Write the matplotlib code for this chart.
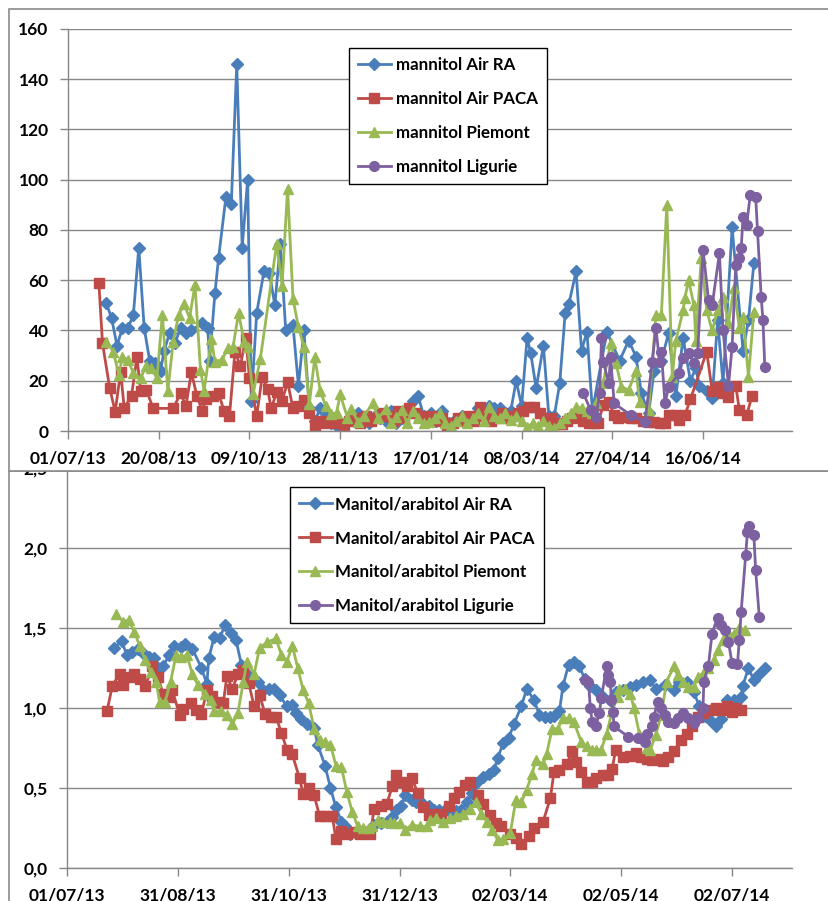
import matplotlib
matplotlib.use("Agg")
import matplotlib.pyplot as plt
from matplotlib.patches import Rectangle
from matplotlib.ticker import FuncFormatter
from datetime import datetime

plt.rcParams["font.family"] = ["Lato", "DejaVu Sans"]
plt.rcParams["font.weight"] = "bold"

W, H = 829, 901
START = datetime(2013, 7, 1)

# ---------------- mannitol concentrations (days since 01/07/13) ----------------
man_ra_days = [21, 24, 27, 30, 33, 36, 39, 42, 45, 48, 51, 53, 56, 59, 62, 65, 68, 74, 77, 78,
               81, 83, 87, 90, 93, 96, 99, 101, 104, 108, 111, 114, 117, 120, 124, 127, 130, 133,
               136, 139, 142, 145, 148, 151, 154, 157, 160, 163, 166, 169, 172, 175, 178, 181,
               184, 187, 190, 193, 196, 200, 203, 206, 210, 213, 217, 220, 223, 226, 229, 232,
               235, 238, 241, 244, 247, 250, 253, 255, 258, 262, 265, 268, 271, 274, 276, 280,
               283, 286, 289, 297, 304, 309, 313, 316, 320, 323, 327, 331, 335, 339, 343, 346,
               348, 352, 355, 358, 361, 366, 372, 375, 378]
man_ra = [51, 45, 34, 41, 41, 46, 73, 41, 28, 27, 24, 32, 39, 35, 41, 39, 40, 43, 41, 28,
          55, 69, 93, 90.5, 146, 73, 100, 12, 47, 63.5, 63, 50, 74.5, 40, 42, 18, 40, 9,
          4, 9, 6, 3, 2, 1.5, 4, 5, 7, 4, 3, 6, 5, 4, 8, 3,
          5, 7, 12, 14, 6, 7, 4, 8, 3, 4, 6, 5, 5, 9, 8, 10,
          9, 9, 7, 8, 20, 10, 37, 31, 17, 34, 6, 6, 19, 47, 50.5, 63.5,
          32, 39.5, 8, 39.5, 28, 36, 29.6, 15, 7, 24, 28, 39, 14, 37, 20, 25,
          18, 16, 13, 44, 19, 81, 32, 44, 67]

man_paca_days = [17, 19, 23, 26, 29, 31, 35, 38, 40, 43, 47, 58, 62, 65, 68, 71, 74, 76, 80, 83,
                 86, 89, 92, 95, 98, 100, 104, 107, 110, 112, 115, 118, 121, 124, 127, 130, 133,
                 136, 139, 142, 145, 148, 152, 155, 158, 161, 164, 167, 170, 173, 176, 179, 182,
                 185, 188, 191, 194, 197, 200, 203, 206, 209, 212, 215, 218, 221, 224, 227, 230,
                 233, 236, 239, 242, 245, 248, 251, 254, 257, 260, 263, 266, 269, 272, 275, 278,
                 281, 284, 287, 290, 292, 295, 298, 301, 303, 306, 310, 313, 317, 320, 323, 326,
                 329, 331, 335, 337, 340, 343, 352, 355, 358, 361, 364, 368, 370, 374, 377]
man_paca = [59, 35, 17, 7.7, 23.6, 9, 14, 29.5, 16, 16.5, 9, 9, 15, 10, 23.4, 14, 8, 12.6, 14, 15,
            8, 6, 31.5, 26, 37, 21, 6, 21.6, 16.6, 9, 15.5, 12, 19.5, 9, 10, 12.4, 7,
            2.4, 4, 3, 4, 3, 1.5, 4, 5, 3, 6, 4, 5, 7, 6, 4, 8,
            5, 9, 7, 6, 5, 6, 4, 5, 2, 3, 5, 4, 6, 4, 9.7, 6,
            4, 5, 7, 5, 6, 7, 8, 9.6, 9.6, 7, 4.4, 5, 3, 2.6, 4, 5,
            5.7, 4, 3, 3, 3, 10.3, 11.7, 6.4, 5, 5.7, 5, 5, 4, 3.7, 3.7, 3,
            3, 6.3, 6.3, 4.5, 6.3, 12.6, 31.6, 16, 17.6, 15, 13.4, 18, 8.4, 6.3, 14]

man_pie_days = [21, 25, 28, 30, 33, 36, 40, 43, 46, 49, 52, 55, 58, 61, 64, 67, 70, 73, 75, 79,
                81, 85, 88, 91, 94, 97, 99, 102, 106, 115, 118, 121, 124, 127, 130, 133, 136,
                139, 142, 145, 148, 150, 154, 156, 160, 163, 168, 171, 175, 178, 181, 184, 187,
                190, 193, 196, 199, 202, 205, 208, 211, 214, 217, 220, 223, 226, 229, 232, 235,
                238, 241, 244, 247, 250, 253, 256, 259, 262, 265, 268, 271, 274, 277, 280, 283,
                286, 289, 291, 295, 299, 302, 305, 309, 313, 315, 320, 324, 327, 330, 333, 335,
                339, 340, 342, 345, 346, 349, 352, 355, 358, 361, 364, 367, 370, 372, 375, 378]
man_pie = [35.6, 31.6, 22.3, 29.6, 28.3, 23, 21, 25.7, 25, 21, 46.3, 16, 35.6, 46.3, 50.4, 45, 58.3, 24.4, 16, 36.5,
           27.6, 28.4, 33, 33.6, 47, 35.6, 33.6, 14.8, 28.7, 74.5, 57.8, 96.5, 52.6, 41.3, 33.6, 10.6, 29.3,
           16, 10, 6.6, 7.3, 14.6, 5.3, 8.7, 3.5, 6, 11, 5, 8.7, 3, 5.6, 8.3, 3,
           7.8, 5, 3, 3.7, 5, 7, 3, 2, 4, 6, 3, 5, 7, 4, 9.6, 6,
           5, 7, 4.4, 6, 4, 1.7, 3, 2, 4, 2, 1.2, 3, 5, 7, 9.7, 9,
           8, 7, 11, 19, 35, 27, 17.6, 16.3, 24, 11.7, 8.4, 46, 46, 90, 21.6, 36,
           48, 53, 60, 50, 36, 69, 48, 40, 48, 53.5, 43, 57, 41, 45.5, 21.6, 47.5]

man_lig_days = [284, 288, 291, 293, 294, 295, 298, 299, 301, 310, 318, 322, 324, 326, 327, 329,
                331, 337, 339, 342, 345, 347, 350, 353, 355, 359, 361, 364, 366, 368, 370, 371,
                372, 374, 376, 379, 380, 382, 383, 384]
man_lig = [15, 8.4, 5.7, 15, 37, 27.6, 19, 29.6, 11, 6.4, 3.7, 27.6, 41, 27.6, 31.6, 11,
           17.6, 23, 29, 31, 27, 31, 72, 52, 50, 70.7, 40, 18, 33.6, 66, 68.7, 72.7,
           85, 82, 94, 93, 79.6, 53.5, 44, 25.6]

# ---------------- mannitol / arabitol ratios ----------------
rat_ra_days = [26, 30, 33, 36, 39, 42, 45, 48, 50, 53, 56, 59, 63, 65, 69, 74, 77, 78, 81, 84,
               87, 90, 93, 96, 99, 102, 105, 108, 111, 114, 117, 121, 124, 126, 129, 132, 136,
               138, 142, 145, 148, 151, 153, 156, 159, 163, 166, 169, 173, 176, 179, 181, 184,
               186, 190, 192, 196, 199, 202, 205, 208, 211, 214, 217, 220, 223, 225, 229, 232,
               235, 237, 240, 243, 246, 250, 253, 257, 260, 263, 266, 268, 271, 273, 276, 279,
               282, 285, 288, 291, 295, 299, 302, 306, 310, 313, 317, 321, 324, 329, 334, 337,
               341, 345, 348, 351, 354, 357, 360, 363, 367, 371, 372, 375, 378, 381, 384]
rat_ra = [1.373, 1.42, 1.33, 1.348, 1.37, 1.345, 1.32, 1.31, 1.25, 1.26, 1.33, 1.39, 1.38, 1.40, 1.37, 1.25, 1.15, 1.31, 1.445, 1.435,
          1.52, 1.47, 1.425, 1.27, 1.21, 1.175, 1.16, 1.115, 1.12, 1.12, 1.08, 1.01, 1.02, 0.97, 0.93, 0.90, 0.875,
          0.77, 0.64, 0.50, 0.38, 0.29, 0.26, 0.21, 0.22, 0.23, 0.24, 0.27, 0.28, 0.29, 0.32, 0.36, 0.39,
          0.456, 0.425, 0.41, 0.40, 0.39, 0.36, 0.36, 0.36, 0.35, 0.355, 0.36, 0.41, 0.466, 0.53, 0.57, 0.59,
          0.61, 0.685, 0.78, 0.81, 0.90, 1.01, 1.12, 1.05, 0.956, 0.945, 0.945, 0.95, 0.98, 1.14, 1.27, 1.29,
          1.26, 1.18, 1.14, 1.11, 1.07, 1.05, 1.10, 1.11, 1.13, 1.145, 1.165, 1.175, 1.12, 1.145, 1.11, 1.165,
          1.16, 1.10, 1.01, 0.95, 0.925, 0.89, 0.93, 1.05, 1.05, 1.07, 1.14, 1.25, 1.175, 1.215, 1.25]

rat_paca_days = [22, 25, 29, 31, 35, 37, 40, 43, 47, 50, 53, 56, 58, 62, 64, 68, 71, 74, 77, 80,
                 83, 86, 88, 91, 94, 97, 100, 103, 106, 109, 112, 115, 118, 121, 124, 128, 130,
                 133, 136, 139, 142, 146, 148, 151, 154, 158, 161, 164, 167, 169, 173, 176, 179,
                 181, 184, 187, 190, 193, 196, 199, 202, 206, 210, 213, 216, 219, 222, 226, 229,
                 233, 236, 239, 244, 247, 250, 254, 257, 262, 266, 268, 271, 275, 278, 280, 283,
                 286, 289, 291, 295, 298, 300, 302, 306, 310, 313, 316, 319, 322, 325, 328, 331,
                 334, 338, 341, 344, 347, 350, 354, 357, 360, 363, 366, 368, 371]
rat_paca = [0.98, 1.14, 1.215, 1.145, 1.195, 1.21, 1.18, 1.135, 1.26, 1.195, 1.085, 1.07, 1.11, 0.955, 0.995, 1.03, 0.99, 0.965, 1.11, 1.075,
            1.04, 1.03, 1.20, 1.12, 1.21, 1.24, 1.155, 1.01, 1.08, 0.965, 0.945, 0.945, 0.845, 0.74, 0.71, 0.56, 0.46,
            0.50, 0.456, 0.325, 0.325, 0.325, 0.18, 0.23, 0.215, 0.225, 0.215, 0.225, 0.215, 0.37, 0.39, 0.40, 0.51,
            0.58, 0.54, 0.51, 0.56, 0.466, 0.38, 0.33, 0.34, 0.34, 0.39, 0.435, 0.476, 0.52, 0.54, 0.456, 0.40,
            0.33, 0.28, 0.26, 0.21, 0.185, 0.15, 0.20, 0.25, 0.29, 0.435, 0.60, 0.61, 0.65, 0.73, 0.665, 0.60,
            0.54, 0.54, 0.56, 0.58, 0.58, 0.62, 0.74, 0.695, 0.70, 0.72, 0.695, 0.68, 0.675, 0.68, 0.67, 0.695,
            0.73, 0.80, 0.835, 0.89, 0.946, 0.966, 0.99, 1.00, 0.99, 1.01, 0.976, 1.0, 0.99]

rat_pie_days = [27, 31, 34, 37, 40, 43, 46, 49, 51, 54, 57, 60, 63, 66, 69, 72, 76, 79, 81, 85,
                88, 91, 94, 97, 99, 103, 106, 110, 115, 118, 121, 124, 127, 130, 133, 136, 139,
                142, 145, 148, 151, 154, 157, 160, 163, 166, 168, 171, 174, 178, 180, 183, 186,
                190, 194, 198, 200, 203, 207, 211, 214, 218, 222, 225, 228, 231, 234, 237, 240,
                244, 247, 250, 253, 256, 258, 262, 264, 267, 270, 273, 276, 279, 283, 286, 289,
                291, 294, 297, 300, 303, 304, 307, 310, 312, 315, 319, 321, 324, 327, 330, 334,
                336, 339, 342, 345, 347, 350, 353, 356, 358, 361, 364, 367, 370, 373]
rat_pie = [1.585, 1.54, 1.55, 1.475, 1.39, 1.30, 1.225, 1.165, 1.04, 1.04, 1.165, 1.33, 1.32, 1.33, 1.21, 1.145, 1.085, 1.05, 0.98, 0.98,
           0.955, 0.90, 0.966, 1.16, 1.29, 1.215, 1.375, 1.41, 1.435, 1.33, 1.29, 1.39, 1.25, 1.11, 1.03, 0.87, 0.80,
           0.79, 0.77, 0.64, 0.63, 0.476, 0.35, 0.26, 0.25, 0.25, 0.26, 0.30, 0.29, 0.29, 0.28, 0.28, 0.24,
           0.27, 0.26, 0.26, 0.30, 0.31, 0.29, 0.31, 0.325, 0.34, 0.37, 0.41, 0.34, 0.29, 0.24, 0.175, 0.18,
           0.22, 0.425, 0.41, 0.49, 0.59, 0.675, 0.65, 0.715, 0.87, 0.87, 0.935, 0.935, 0.91, 0.79, 0.76, 0.74,
           0.74, 0.74, 0.84, 0.98, 1.07, 1.12, 1.12, 1.09, 1.0, 0.84, 0.75, 0.74, 0.83, 0.955, 1.165, 1.26,
           1.205, 1.165, 1.13, 1.13, 1.195, 1.215, 1.25, 1.30, 1.36, 1.425, 1.46, 1.465, 1.50, 1.49]

rat_lig_days = [285, 287, 288, 289, 291, 293, 294, 297, 297.5, 299, 299.6, 300.5, 301, 309, 314,
                318, 319, 322, 323, 325, 327, 329, 331, 334, 336, 339, 342, 345, 347, 350, 350.5,
                353, 355, 358, 360, 362, 364, 366, 369, 370, 371, 373.5, 374.5, 375.5, 378, 379, 381]
rat_lig = [1.175, 1.165, 1.0, 0.915, 0.885, 0.966, 1.06, 1.26, 1.205, 1.165, 1.05, 0.976, 0.885, 0.82, 0.81,
           0.79, 0.84, 0.885, 0.946, 1.04, 1.0, 0.955, 0.915, 0.905, 0.935, 0.966, 0.935, 0.905, 0.935, 1.0, 1.165,
           1.265, 1.465, 1.565, 1.52, 1.49, 1.415, 1.28, 1.275, 1.425, 1.60, 1.955, 2.10, 2.14, 2.08, 1.86, 1.57]

top_ticklabels = ["01/07/13", "20/08/13", "09/10/13", "28/11/13", "17/01/14", "08/03/14",
                  "27/04/14", "16/06/14"]
bot_ticklabels = ["01/07/13", "31/08/13", "31/10/13", "31/12/13", "02/03/14", "02/05/14",
                  "02/07/14"]
top_labels = ["mannitol Air RA", "mannitol Air PACA", "mannitol Piemont", "mannitol Ligurie"]
bot_labels = ["Manitol/arabitol Air RA", "Manitol/arabitol Air PACA",
              "Manitol/arabitol Piemont", "Manitol/arabitol Ligurie"]

COLORS = ["#4A7EBB", "#BE4B48", "#98B954", "#7D60A0"]
MARKERS = [("D", 6.0), ("s", 6.8), ("^", 7.2), ("o", 7.0)]
GRID = "#878787"
TICK_FS = 12.5
LEG_FS = 12.2


def day_of(label):
    return (datetime.strptime(label, "%d/%m/%y") - START).days


def fbox(x0, y0, x1, y1):
    return [x0 / W, 1 - y1 / H, (x1 - x0) / W, (y1 - y0) / H]


fig = plt.figure(figsize=(W / 100, H / 100), dpi=100)

# chart panels (the top one hides the upper edge of the lower one)
bot_panel = Rectangle((9 / W, -0.05), 1.2, 1 - 471 / H + 0.05, transform=fig.transFigure,
                      facecolor="white", edgecolor="#8a8a8a", lw=1.2, zorder=0)
top_panel = Rectangle((9 / W, 1 - 471 / H), 1.2, (471 - 9) / H, transform=fig.transFigure,
                      facecolor="white", edgecolor="#8a8a8a", lw=1.2, zorder=2)
fig.add_artist(bot_panel)
fig.add_artist(top_panel)

ax_bot = fig.add_axes(fbox(67, 468, 792, 868))
ax_top = fig.add_axes(fbox(68, 29, 792, 431))
ax_bot.set_zorder(1)
ax_top.set_zorder(3)


def style(ax):
    ax.patch.set_visible(False)
    for s in ("top", "right"):
        ax.spines[s].set_visible(False)
    for s in ("left", "bottom"):
        ax.spines[s].set_color(GRID)
        ax.spines[s].set_linewidth(1.0)
    ax.yaxis.grid(True, color=GRID, lw=1.0)
    ax.set_axisbelow(True)
    ax.tick_params(axis="both", direction="out", length=6, width=1.0, color=GRID,
                   labelsize=TICK_FS, labelcolor="black")
    ax.tick_params(axis="y", pad=8)
    ax.tick_params(axis="x", pad=8)


def draw(ax, series, labels):
    handles = []
    for (d, v), c, (m, ms), lab in zip(series, COLORS, MARKERS, labels):
        h, = ax.plot(d, v, color=c, lw=2.0, marker=m, ms=ms, mfc=c, mec=c, label=lab)
        handles.append(h)
    return handles


# ---- top: mannitol ----
style(ax_top)
h_top = draw(ax_top, [(man_ra_days, man_ra), (man_paca_days, man_paca),
                      (man_pie_days, man_pie), (man_lig_days, man_lig)], top_labels)
ax_top.set_xlim(0, 399)
ax_top.set_ylim(0, 160)
ax_top.set_yticks(range(0, 161, 20))
ax_top.set_xticks([day_of(t) for t in top_ticklabels])
ax_top.set_xticklabels(top_ticklabels)
leg = ax_top.legend(handles=h_top, loc="upper left", bbox_to_anchor=(349 / W, 1 - 48 / H),
                    bbox_transform=fig.transFigure, borderaxespad=0, fancybox=False,
                    edgecolor="black", framealpha=1, fontsize=LEG_FS, handlelength=1.9,
                    handletextpad=0.3, labelspacing=1.05, borderpad=0.55)
leg.get_frame().set_linewidth(1.0)

# ---- bottom: mannitol / arabitol ----
style(ax_bot)
h_bot = draw(ax_bot, [(rat_ra_days, rat_ra), (rat_paca_days, rat_paca),
                      (rat_pie_days, rat_pie), (rat_lig_days, rat_lig)], bot_labels)
ax_bot.set_xlim(0, 399)
ax_bot.set_ylim(0, 2.5)
ax_bot.set_yticks([0, 0.5, 1.0, 1.5, 2.0, 2.5])
ax_bot.yaxis.set_major_formatter(FuncFormatter(lambda v, p: f"{v:.1f}".replace(".", ",")))
ax_bot.set_xticks([day_of(t) for t in bot_ticklabels])
ax_bot.set_xticklabels(bot_ticklabels)
leg2 = ax_bot.legend(handles=h_bot, loc="upper left", bbox_to_anchor=(290 / W, 1 - 487 / H),
                     bbox_transform=fig.transFigure, borderaxespad=0, fancybox=False,
                     edgecolor="black", framealpha=1, fontsize=LEG_FS, handlelength=1.9,
                     handletextpad=0.2, labelspacing=1.05, borderpad=0.55)
leg2.get_frame().set_linewidth(1.0)

fig.savefig("out.png", dpi=100)
